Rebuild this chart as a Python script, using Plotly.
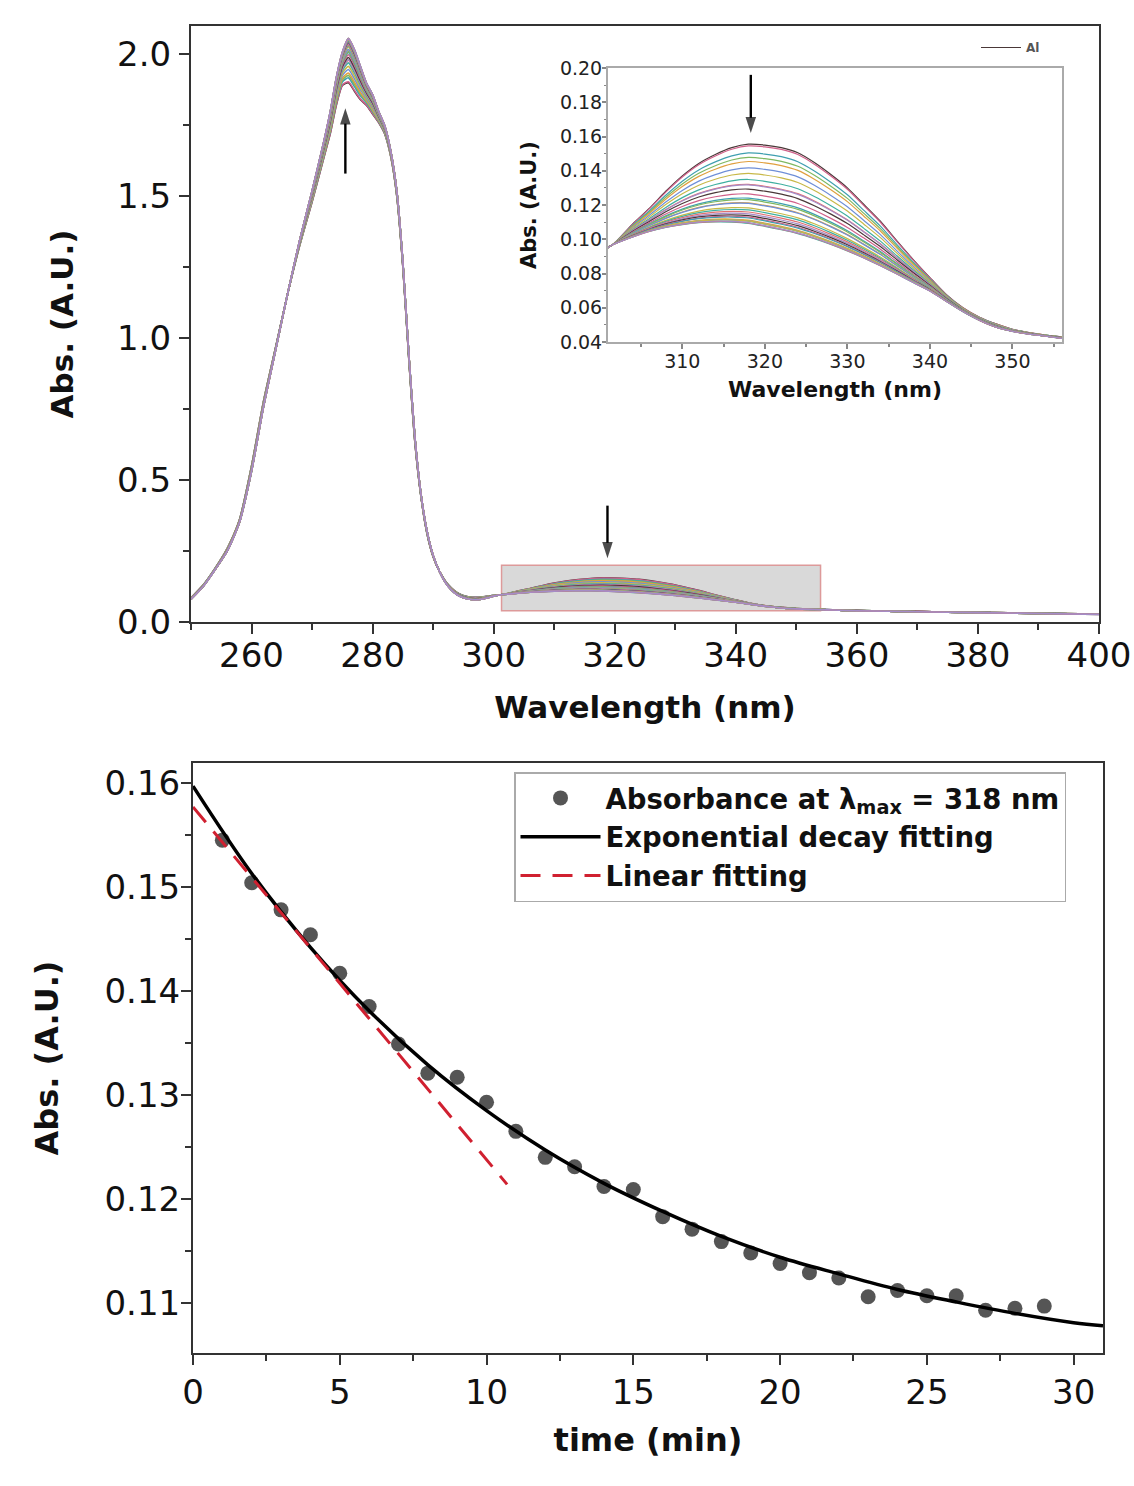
import plotly.graph_objects as go

W, H = 1134, 1486
FONT = "DejaVu Sans, Arial, sans-serif"

# ---------------- data: UV-Vis spectra ----------------
WAVELENGTH = [250, 252, 254, 256, 258, 260, 262, 264, 266, 268, 270, 272, 273, 274, 275,
              276, 277, 278, 279, 280, 281, 282, 283, 284, 285, 286, 287, 288, 289, 290,
              291, 292, 293, 294, 295, 296, 297, 298, 299, 300, 301.5, 304, 306, 308, 310,
              312, 314, 316, 318, 320, 322, 324, 326, 328, 330, 332, 334, 336, 338, 340,
              342, 344, 346, 348, 350, 352, 354, 356, 360, 370, 380, 390, 400]

# first scan (t = 0 min)
SPEC_FIRST = [0.085, 0.13, 0.19, 0.26, 0.36, 0.55, 0.78, 0.97, 1.16, 1.33, 1.48, 1.64, 1.72, 1.82, 1.89,
              1.90, 1.87, 1.84, 1.82, 1.79, 1.76, 1.72, 1.64, 1.50, 1.25, 0.92, 0.63, 0.44, 0.31, 0.23,
              0.18, 0.145, 0.12, 0.103, 0.093, 0.088, 0.087, 0.088, 0.091, 0.094, 0.0966, 0.109, 0.118, 0.128, 0.137,
              0.1443, 0.1495, 0.1535, 0.1555, 0.155, 0.1535, 0.1505, 0.1448, 0.1378, 0.130, 0.1203, 0.1105, 0.099, 0.088, 0.0776,
              0.0676, 0.060, 0.0545, 0.0506, 0.0474, 0.0455, 0.0441, 0.0430, 0.0405, 0.037, 0.034, 0.031, 0.028]

# last scan (t = 29 min)
SPEC_LAST = [0.080, 0.125, 0.185, 0.25, 0.35, 0.53, 0.76, 0.96, 1.16, 1.35, 1.52, 1.70, 1.80, 1.92, 2.01,
             2.06, 2.02, 1.96, 1.90, 1.86, 1.80, 1.75, 1.66, 1.52, 1.27, 0.94, 0.65, 0.45, 0.32, 0.235,
             0.18, 0.14, 0.113, 0.095, 0.085, 0.080, 0.078, 0.080, 0.085, 0.091, 0.0966, 0.1012, 0.1043, 0.1065, 0.1080,
             0.1090, 0.1094, 0.1092, 0.1084, 0.1066, 0.1046, 0.1024, 0.0995, 0.0962, 0.0925, 0.0884, 0.0840, 0.0793, 0.0744, 0.0696,
             0.0636, 0.0577, 0.0526, 0.0486, 0.0462, 0.0446, 0.0434, 0.0421, 0.0395, 0.036, 0.033, 0.030, 0.027]

# ---------------- data: kinetics at 318 nm ----------------
TIME = list(range(1, 30))
ABS318 = [0.1545, 0.1504, 0.1478, 0.1454, 0.1417, 0.1385, 0.1349, 0.1321, 0.1317, 0.1293,
          0.1265, 0.1240, 0.1231, 0.1212, 0.1209, 0.1183, 0.1171, 0.1159, 0.1148, 0.1138,
          0.1129, 0.1124, 0.1106, 0.1112, 0.1107, 0.1107, 0.1093, 0.1095, 0.1097]

# exponential decay fit curve
FIT_T = [0, 2, 4, 6, 8, 10, 12, 14, 16, 18, 20, 22, 24, 26, 28, 30, 31]
FIT_ABS = [0.1597, 0.1513, 0.1442, 0.1381, 0.1329, 0.1285, 0.1247, 0.1215, 0.1188, 0.1164,
           0.1144, 0.1128, 0.1113, 0.1101, 0.1090, 0.1081, 0.1078]

# linear fit (initial rate) segment
LIN_T = [0, 10.7]
LIN_ABS = [0.1577, 0.1214]

SCAN_TIMES = [0] + TIME
SCAN_A318 = [SPEC_FIRST[WAVELENGTH.index(318)]] + ABS318

PALETTE = ["#4a3838", "#d0608a", "#3f9fb0", "#7fb860", "#e0a040",
           "#6f8fd8", "#c8b848", "#40b0a0", "#e07070", "#a58cc8"]

# arrows: (x axis, y axis, wavelength, tail value, head value)
ARROWS = [("x", "y", 275.5, 1.58, 1.81), ("x", "y", 318.8, 0.41, 0.225), ("x2", "y2", 318.3, 0.196, 0.162)]

# ---------------- layout constants ----------------
MAIN_X = [250, 400]
MAIN_Y = [0, 2.1]
INSET_X = [301, 356]
INSET_Y = [0.04, 0.20]
ZOOM_BOX = [301.3, 354, 0.04, 0.20]
KIN_X = [0, 31]
KIN_Y = [0.10519, 0.16192]


def px_x(a, b):
    return [a / W, b / W]


def px_y(top, bottom):
    return [1 - bottom / H, 1 - top / H]


def lx(x):
    return x / W


def ly(y):
    return 1 - y / H


fig = go.Figure()

a_first = SCAN_A318[0]
a_last = SPEC_LAST[WAVELENGTH.index(318)]
for axes, width in ((("x", "y"), 1.6), (("x2", "y2"), 1.2)):
    for i, (t, a) in enumerate(zip(SCAN_TIMES, SCAN_A318)):
        w = min(1.0, max(0.0, (a_first - a) / (a_first - a_last)))
        spec = [f + w * (l - f) for f, l in zip(SPEC_FIRST, SPEC_LAST)]
        col = PALETTE[i % len(PALETTE)]
        inset = axes[0] == "x2"
        fig.add_trace(go.Scatter(x=WAVELENGTH, y=spec, mode="lines", xaxis=axes[0], yaxis=axes[1],
                                 line=dict(color=col, width=width, shape="spline", smoothing=0.6),
                                 showlegend=(inset and i == 0), legend="legend2",
                                 name="Al" if (inset and i == 0) else f"{t} min"))

# arrows drawn as short line traces ending in an arrow marker
for xr, yr, wl, y_tail, y_head in ARROWS:
    fig.add_trace(go.Scatter(x=[wl, wl], y=[y_tail, y_head], mode="lines+markers",
                             xaxis=xr, yaxis=yr, showlegend=False, hoverinfo="skip",
                             line=dict(color="black", width=2.4),
                             marker=dict(symbol="arrow", size=[0, 17], angleref="previous",
                                         color="black", line=dict(width=0))))

# kinetics
fig.add_trace(go.Scatter(x=TIME, y=ABS318, mode="markers", xaxis="x3", yaxis="y3",
                         marker=dict(color="#555555", size=15),
                         name="Absorbance at \u03bb<sub>max</sub> = 318 nm"))
fig.add_trace(go.Scatter(x=FIT_T, y=FIT_ABS, mode="lines", xaxis="x3", yaxis="y3",
                         line=dict(color="black", width=3.5, shape="spline"),
                         name="Exponential decay fitting"))
fig.add_trace(go.Scatter(x=LIN_T, y=LIN_ABS, mode="lines", xaxis="x3", yaxis="y3",
                         line=dict(color="#d02030", width=3, dash="20px,12px"),
                         name="Linear fitting"))

axis_common = dict(showline=True, linecolor="#333333", linewidth=2, mirror=True,
                   ticks="outside", tickcolor="#333333", tickwidth=2, showgrid=False,
                   zeroline=False, tickfont=dict(family=FONT, size=34, color="#111"))
title_font = dict(family=FONT, size=31, weight="bold", color="#111")

fig.update_layout(
    width=W, height=H, margin=dict(l=0, r=0, t=0, b=0, autoexpand=False),
    paper_bgcolor="white", plot_bgcolor="white",
    xaxis=dict(axis_common, domain=px_x(191, 1099), range=MAIN_X, anchor="y",
               tick0=260, dtick=20, ticklen=10, ticklabelstandoff=-8,
               minor=dict(dtick=10, tick0=250, ticks="outside", ticklen=6, tickwidth=2, tickcolor="#333"),
               title=dict(text="Wavelength (nm)", standoff=23, font=title_font)),
    yaxis=dict(axis_common, domain=px_y(26, 622), range=MAIN_Y, anchor="x",
               dtick=0.5, tickformat=".1f", ticklen=10, ticklabelstandoff=1,
               minor=dict(dtick=0.25, ticks="outside", ticklen=6, tickwidth=2, tickcolor="#333"),
               title=dict(text="Abs. (A.U.)", standoff=34, font=title_font)),
    xaxis2=dict(showline=True, linecolor="#aaaaaa", linewidth=2, mirror=True, showgrid=False,
                zeroline=False, domain=px_x(608, 1062), range=INSET_X, anchor="y2",
                tick0=310, dtick=10, ticks="outside", ticklen=5, tickwidth=1.5, tickcolor="#888",
                minor=dict(dtick=5, tick0=305, ticks="outside", ticklen=3, tickwidth=1.5, tickcolor="#888"),
                tickfont=dict(family=FONT, size=19, color="#222"), ticklabelstandoff=-4,
                title=dict(text="Wavelength (nm)", standoff=11,
                           font=dict(family=FONT, size=22, weight="bold", color="#111"))),
    yaxis2=dict(showline=True, linecolor="#aaaaaa", linewidth=2, mirror=True, showgrid=False,
                zeroline=False, domain=px_y(68, 342), range=INSET_Y, anchor="x2",
                dtick=0.02, tickformat=".2f", ticks="outside", ticklen=4, tickwidth=1.5, tickcolor="#888",
                minor=dict(dtick=0.01, ticks="outside", ticklen=2, tickwidth=1, tickcolor="#888"),
                tickfont=dict(family=FONT, size=19, color="#222"), ticklabelstandoff=-4,
                title=dict(text="Abs. (A.U.)", standoff=18,
                           font=dict(family=FONT, size=21, weight="bold", color="#111"))),
    xaxis3=dict(axis_common, domain=px_x(193, 1103), range=KIN_X, anchor="y3",
                tick0=0, dtick=5, ticklen=10, ticklabelstandoff=-2,
                minor=dict(dtick=2.5, ticks="outside", ticklen=6, tickwidth=2, tickcolor="#333"),
                title=dict(text="time (min)", standoff=18,
                           font=dict(family=FONT, size=32, weight="bold", color="#111"))),
    yaxis3=dict(axis_common, domain=px_y(763, 1353), range=KIN_Y, anchor="x3",
                tick0=0.11, dtick=0.01, tickformat=".2f", ticklen=10, ticklabelstandoff=-6,
                minor=dict(dtick=0.005, ticks="outside", ticklen=6, tickwidth=2, tickcolor="#333"),
                title=dict(text="Abs. (A.U.)", standoff=36,
                           font=dict(family=FONT, size=32, weight="bold", color="#111"))),
    legend=dict(x=lx(514), y=ly(772), xanchor="left", yanchor="top",
                bgcolor="white", bordercolor="#aaaaaa", borderwidth=1.5,
                font=dict(family=FONT, size=27.5, weight="bold", color="#111"),
                itemwidth=80, tracegroupgap=0),
    legend2=dict(x=lx(976), y=ly(33), xanchor="left", yanchor="top",
                 bgcolor="rgba(0,0,0,0)", borderwidth=0,
                 font=dict(family=FONT, size=12, weight="bold", color="#555"),
                 itemwidth=40),
)

# zoom box on main plot (drawn under the spectra)
fig.add_shape(type="rect", xref="x", yref="y", x0=ZOOM_BOX[0], x1=ZOOM_BOX[1],
              y0=ZOOM_BOX[2], y1=ZOOM_BOX[3], layer="below",
              fillcolor="#d9d9d9", line=dict(color="#dd9a9a", width=1.5))

fig.write_html("out.html")
